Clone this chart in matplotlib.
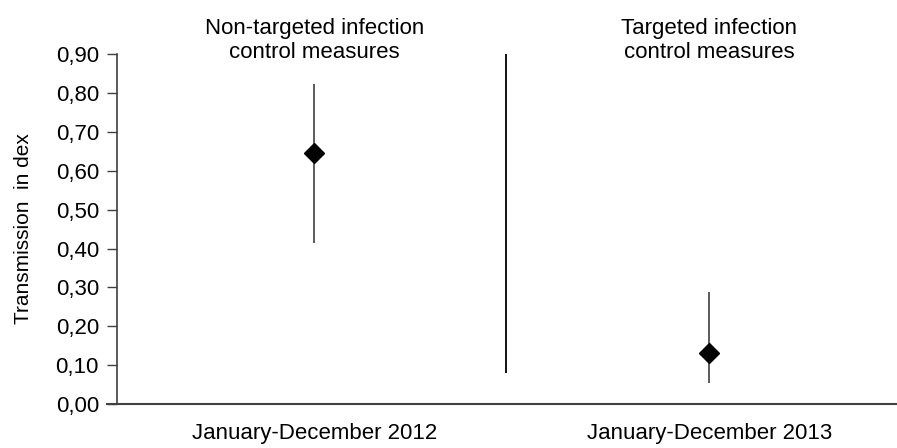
import matplotlib.pyplot as plt

plt.rcParams['font.family'] = ['Liberation Sans', 'DejaVu Sans']

periods = ['January-December 2012', 'January-December 2013']
groups = ['Non-targeted infection\ncontrol measures', 'Targeted infection\ncontrol measures']
index_values = [0.645, 0.131]
ci_lower = [0.414, 0.054]
ci_upper = [0.823, 0.288]
divider_range = [0.08, 0.90]
y_ticks = [0.0, 0.1, 0.2, 0.3, 0.4, 0.5, 0.6, 0.7, 0.8, 0.9]

fig = plt.figure(figsize=(8.97, 4.48), dpi=100)
ax = fig.add_axes([0.1304, 0.0982, 0.8696, 0.781])

xs = list(range(len(periods)))
err_low = [v - lo for v, lo in zip(index_values, ci_lower)]
err_high = [hi - v for v, hi in zip(index_values, ci_upper)]
ax.errorbar(xs, index_values, yerr=[err_low, err_high], fmt='D', color='black',
            markersize=10, ecolor='#404040', elinewidth=1.2, capsize=0, zorder=3)

# separator between the two periods
ax.vlines(0.486, divider_range[0], divider_range[1], color='black', linewidth=1.3)

ax.set_xlim(-0.5, 1.475)
ax.set_ylim(0, 0.9)
ax.set_yticks(y_ticks)
ax.set_yticklabels([f'{t:.2f}'.replace('.', ',') for t in y_ticks], fontsize=16)
ax.set_xticks(xs)
ax.set_xticklabels(periods, fontsize=16)
ax.tick_params(axis='x', length=0, pad=14)
ax.tick_params(axis='y', length=7, width=1, color='#404040', pad=6)
ax.set_ylabel('Transmission  in dex', fontsize=15, labelpad=16)

for x, g in zip(xs, groups):
    ax.text(x, 0.876, g, ha='center', va='bottom', fontsize=16, clip_on=False)

for side in ['top', 'right']:
    ax.spines[side].set_visible(False)
ax.spines['left'].set_color('#404040')
ax.spines['bottom'].set_color('#404040')
ax.spines['left'].set_linewidth(1.2)
ax.spines['bottom'].set_linewidth(1.5)
ax.spines['bottom'].set_bounds(-0.525, 1.475)

fig.savefig('out.png', dpi=100)
